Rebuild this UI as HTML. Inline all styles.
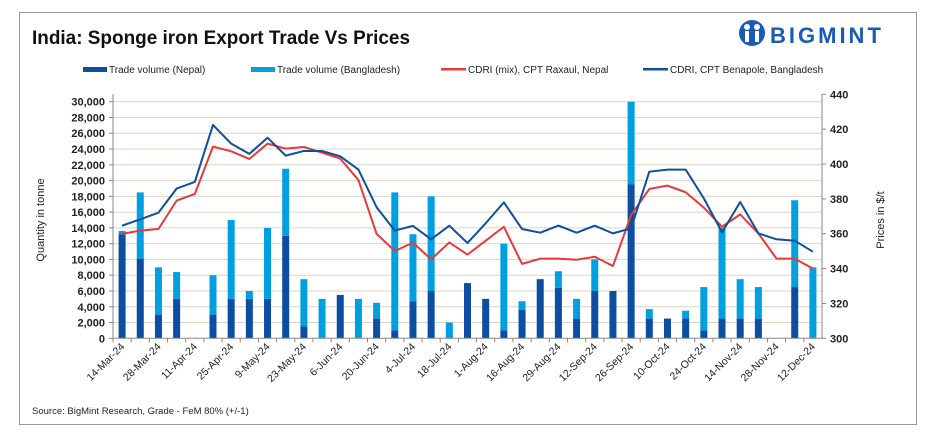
<!DOCTYPE html>
<html><head><meta charset="utf-8"><style>
body{margin:0;background:#fff;width:927px;height:442px;overflow:hidden;font-family:"Liberation Sans",sans-serif}
svg text{font-family:"Liberation Sans",sans-serif}
</style></head><body>
<svg id="chart" width="927" height="442" viewBox="0 0 927 442" xmlns="http://www.w3.org/2000/svg">
<rect x="19.5" y="12.5" width="897" height="412" fill="#fff" stroke="#999" stroke-width="1"/>
<text x="32" y="44" font-size="19" font-weight="bold" fill="#111" textLength="378" lengthAdjust="spacingAndGlyphs">India: Sponge iron Export Trade Vs Prices</text>
<g>
<circle cx="752" cy="33" r="13" fill="#1a5bb5"/>
<circle cx="747" cy="27" r="3" fill="#fff"/><circle cx="757" cy="27" r="3" fill="#fff"/>
<rect x="745" y="31" width="4" height="11" fill="#fff"/><rect x="755" y="31" width="4" height="11" fill="#fff"/>
<text x="770" y="43" font-size="22" font-weight="bold" fill="#1a5bb5" letter-spacing="3">BIGMINT</text>
</g>
<g id="legend" font-size="10" fill="#222">
<g><rect x="83" y="67" width="24" height="5" fill="#0b4ea2"/><text x="109" y="73">Trade volume (Nepal)</text></g>
<g><rect x="251" y="67" width="24" height="5" fill="#00a0e0"/><text x="277" y="73">Trade volume (Bangladesh)</text></g>
<g><rect x="441" y="68" width="25" height="2.5" fill="#e8393a"/><text x="468" y="73">CDRI (mix), CPT Raxaul, Nepal</text></g>
<g><rect x="643" y="68" width="25" height="2.5" fill="#0d4fa0"/><text x="670" y="73">CDRI, CPT Benapole, Bangladesh</text></g>
</g>
<text transform="translate(44,220) rotate(-90)" text-anchor="middle" font-size="11" fill="#222">Quantity in tonne</text>
<text transform="translate(884,220) rotate(-90)" text-anchor="middle" font-size="11" fill="#222">Prices in $/t</text>
<text x="32" y="414" font-size="9.5" fill="#222">Source: BigMint Research, Grade - FeM 80% (+/-1)</text>
<g id="plot"></g>
</svg>
<script>
const categories=["14-Mar-24","21-Mar-24","28-Mar-24","4-Apr-24","11-Apr-24","18-Apr-24","25-Apr-24","2-May-24","9-May-24","16-May-24","23-May-24","30-May-24","6-Jun-24","13-Jun-24","20-Jun-24","27-Jun-24","4-Jul-24","11-Jul-24","18-Jul-24","25-Jul-24","1-Aug-24","9-Aug-24","16-Aug-24","22-Aug-24","29-Aug-24","5-Sep-24","12-Sep-24","19-Sep-24","26-Sep-24","3-Oct-24","10-Oct-24","17-Oct-24","24-Oct-24","7-Nov-24","14-Nov-24","21-Nov-24","28-Nov-24","5-Dec-24","12-Dec-24"];
const nepal=[13200,10100,3000,5000,0,3000,5000,5000,5000,13000,1500,0,5500,0,2500,1000,4700,6000,0,7000,5000,1000,3600,7500,6400,2500,6000,6000,19500,2500,2500,2500,1000,2500,2500,2500,0,6500,0];
const bangladesh=[400,8400,6000,3400,0,5000,10000,1000,9000,8500,6000,5000,0,5000,2000,17500,8500,12000,2000,0,0,11000,1100,0,2100,2500,4000,0,10500,1200,0,1000,5500,11500,5000,4000,0,11000,9000];
const raxaul=[359.9,361.8,362.7,379,382.8,410,407.3,402.9,411.7,408.8,409.8,406.5,403.1,390.8,359.9,350.1,354.9,345.3,355,348,356,364,342.7,345.7,345.7,345.1,346.8,341.5,370.7,385.7,387.6,383.8,375,364,371.1,360.2,345.7,345.7,340];
const benapole=[364.6,368.3,372.1,385.9,389.7,422.4,411.7,405.8,415.1,404.8,407.5,407.5,404.4,396.8,375.2,361.8,364.5,356.8,364.6,354.7,366,378,362.7,360.6,364.7,360.6,364.6,360.2,363.1,395.6,396.8,396.8,380.3,360.8,378.2,360.2,356.8,356,349.7];
const leftTicks=[0,2000,4000,6000,8000,10000,12000,14000,16000,18000,20000,22000,24000,26000,28000,30000];
const rightTicks=[300,320,340,360,380,400,420,440];

const NS="http://www.w3.org/2000/svg";
const plot=document.getElementById('plot');
const X0=113,X1=822,Y0=338.3;
const bw=(X1-X0)/categories.length;
const xc=i=>X0+bw*(i+0.5);
const yL=v=>Y0-v/30000*236.6;
const yR=v=>Y0-(v-300)/140*244;
function mk(tag,attrs){const e=document.createElementNS(NS,tag);for(const k in attrs)e.setAttribute(k,attrs[k]);plot.appendChild(e);return e;}
leftTicks.forEach(t=>{
  if(t>0){const g=mk('line',{x1:X0,x2:X1,y1:yL(t),y2:yL(t),stroke:'#dcd6c2','stroke-width':1});
  
  }
  const tk=mk('line',{x1:X0-4,x2:X0,y1:yL(t),y2:yL(t),stroke:'#888'});
  
  
  const tx=mk('text',{x:X0-8,y:yL(t)+4,'text-anchor':'end','font-size':11,'font-weight':'bold',fill:'#222'});
  tx.textContent=t.toLocaleString('en-US');
  
  
});
rightTicks.forEach(t=>{
  const tk=mk('line',{x1:X1,x2:X1+4,y1:yR(t),y2:yR(t),stroke:'#888'});
  
  
  const tx=mk('text',{x:X1+8,y:yR(t)+4,'font-size':11,'font-weight':'bold',fill:'#222'});
  tx.textContent=t;
  
  
});
categories.forEach((c,i)=>{
  const n=nepal[i],b=bangladesh[i];
  if(n>0){const r=mk('rect',{x:xc(i)-3.5,y:yL(n),width:7,height:Y0-yL(n),fill:'#0b4ea2'});
  
  }
  if(b>0){const r=mk('rect',{x:xc(i)-3.5,y:yL(n+b),width:7,height:yL(n)-yL(n+b),fill:'#00a0e0'});
  
  }
});
[[raxaul,'#e8393a','line-raxaul'],[benapole,'#0d4fa0','line-benapole']].forEach(([s,col,nm])=>{
  const p=mk('polyline',{points:s.map((v,i)=>xc(i)+','+yR(v)).join(' '),fill:'none',stroke:col,'stroke-width':2,'stroke-linejoin':'round'});
  
  
});
const ax=mk('line',{x1:X0,x2:X0,y1:94,y2:Y0,stroke:'#888'});


const ax2=mk('line',{x1:X1,x2:X1,y1:94,y2:Y0,stroke:'#888'});


const ax3=mk('line',{x1:X0,x2:X1,y1:Y0,y2:Y0,stroke:'#888'});


categories.forEach((c,i)=>{
  const xt=X0+bw*i;
  const tk=mk('line',{x1:xt,x2:xt,y1:Y0,y2:Y0+4,stroke:'#888'});
  
  
  if(i%2===0){
    const tx=mk('text',{transform:`translate(${xc(i)+3},${Y0+9}) rotate(-45)`,'text-anchor':'end','font-size':10.5,fill:'#222'});
    tx.textContent=c;
    
    
  }
});
</script>
</body></html>
